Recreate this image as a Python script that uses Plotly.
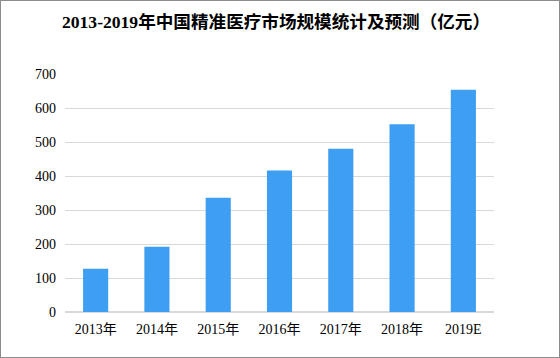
import plotly.graph_objects as go

categories = ["2013年", "2014年", "2015年", "2016年", "2017年", "2018年", "2019E"]
values = [127, 192, 336, 416, 480, 552, 654]
y_ticks = [0, 100, 200, 300, 400, 500, 600, 700]

W, H = 560, 358
L, R, T, B = 65, 66, 74, 46

fig = go.Figure(go.Bar(x=categories, y=values, marker_color="#3D9EF2", marker_line_width=0,
                       hoverinfo="skip"))

fig.update_layout(
    width=W, height=H,
    margin=dict(l=L, r=R, t=T, b=B, autoexpand=False),
    paper_bgcolor="white", plot_bgcolor="white",
    bargap=0.59,
    showlegend=False,
    title=dict(text="<b>2013-2019年中国精准医疗市场规模统计及预测（亿元）</b>",
               x=(276) / W, xanchor="center", y=1 - 22 / H, yanchor="middle",
               font=dict(family="Liberation Serif, Noto Sans CJK SC", size=17.6, color="#000")),
    font=dict(family="Liberation Serif, Noto Sans CJK SC", size=14, color="#000"),
    xaxis=dict(showgrid=False, showline=False, ticks="", tickfont=dict(size=14),
               ticklabelstandoff=7),
    yaxis=dict(range=[0, 700], tickvals=y_ticks, showgrid=True, gridcolor="#D9D9D9",
               gridwidth=1, zeroline=True, zerolinecolor="#D9D9D9", ticks="", ticklen=0,
               ticklabelstandoff=8, tickfont=dict(size=14)),
)

post = (
    "document.documentElement.style.overflow='hidden';"
    "document.body.style.overflow='hidden';"
    "document.body.style.margin='0';document.body.style.padding='0';"
    "var d=document.getElementById('{plot_id}');"
    "var o=document.createElement('div');"
    "o.style.cssText='position:absolute;left:0;top:0;width:%dpx;height:%dpx;"
    "box-sizing:border-box;border:1.5px solid #8C8C8C;pointer-events:none;z-index:10;';"
    "document.body.appendChild(o);" % (W, H)
)

fig.write_html("out.html", config={"displayModeBar": False}, post_script=post)
